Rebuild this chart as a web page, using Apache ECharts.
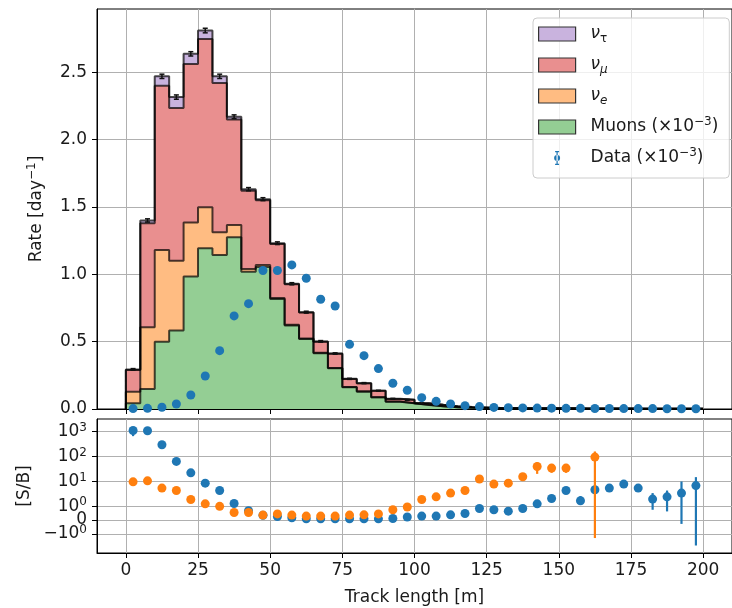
<!DOCTYPE html>
<html><head><meta charset="utf-8">
<script src="https://cdn.jsdelivr.net/npm/echarts@6/dist/echarts.min.js"></script>
<style>html,body{margin:0;padding:0;background:#fff}#c{width:732px;height:608px}</style>
</head><body><div id="c"></div>
<script>
// ---------- data ----------
const binCenters = [2.5,7.5,12.5,17.5,22.5,27.5,32.5,37.5,42.5,47.5,52.5,57.5,62.5,67.5,72.5,77.5,82.5,87.5,92.5,97.5,102.5,107.5,112.5,117.5,122.5,127.5,132.5,137.5,142.5,147.5,152.5,157.5,162.5,167.5,172.5,177.5,182.5,187.5,192.5,197.5];
const binWidth = 5;
const muons = [0.042,0.149,0.50,0.582,0.983,1.194,1.144,1.276,1.02,1.055,0.817,0.62,0.52,0.414,0.302,0.161,0.129,0.087,0.054,0.042,0.030,0.020,0.013,0.009,0.007,0.005,0.004,0.004,0.003,0.003,0.003,0.002,0.002,0.002,0.002,0.001,0.001,0.001,0.001,0.001];
const nuE = [0.087,0.458,0.681,0.518,0.401,0.304,0.169,0.091,0.02,0.015,0.008,0.006,0.004,0.003,0.003,0.002,0.002,0.001,0.001,0.001,0.001,0.001,0,0,0,0,0,0,0,0,0,0,0,0,0,0,0,0,0,0];
const nuMu = [0.161,0.773,1.219,1.134,1.177,1.249,1.107,0.783,0.58,0.48,0.401,0.30,0.192,0.083,0.105,0.06,0.06,0.047,0.02,0.025,0.012,0.01,0.008,0.005,0.004,0.003,0.003,0.002,0.002,0.002,0.002,0.001,0.001,0.001,0.001,0.001,0.001,0.001,0.001,0.001];
const nuTau = [0.004,0.02,0.07,0.082,0.076,0.063,0.05,0.02,0.012,0.008,0.005,0.004,0.003,0.002,0.002,0.001,0.001,0.001,0.001,0,0,0,0,0,0,0,0,0,0,0,0,0,0,0,0,0,0,0,0,0];
const totalErr = [0.006,0.012,0.016,0.016,0.016,0.017,0.016,0.014,0.012,0.011,0.01,0.008,0.007,0.006,0.005,0.004,0.004,0.003,0.003,0.003,0.002,0.002,0.002,0.002,0.002,0.002,0.002,0.002,0.002,0.002,0.002,0.002,0.002,0.002,0.002,0.002,0.002,0.002,0.002,0.002];
const dataRate = [0.003,0.005,0.013,0.037,0.104,0.245,0.433,0.691,0.782,1.028,1.028,1.07,0.971,0.815,0.765,0.48,0.396,0.30,0.191,0.139,0.084,0.057,0.037,0.025,0.018,0.012,0.010,0.008,0.007,0.006,0.005,0.005,0.004,0.004,0.003,0.003,0.003,0.002,0.002,0.002];
const sbBlue = [1100,1070,293,63,22,8.5,4.3,1.3,0.68,0.35,0.26,0.16,0.09,0.09,0.09,0.09,0.09,0.09,0.11,0.22,0.29,0.29,0.38,0.48,0.84,0.75,0.65,0.84,1.26,2.07,4.3,1.67,4.6,5.4,7.8,5.4,1.95,2.4,3.4,6.8];
const sbOrange = [9.6,10.5,5.4,4.3,1.88,1.26,1.0,0.55,0.55,0.36,0.45,0.36,0.29,0.29,0.29,0.36,0.38,0.45,0.75,0.95,1.88,2.4,3.4,4.3,12.4,7.8,8.5,15.3,39.5,34,34,null,94,null,null,null,null,null,null,null];
const sbBlueErr = [[2.5,650,1500],[157.5,1.2,2.6],[182.5,0.75,3.4],[187.5,0.63,4.3],[192.5,-0.28,9.9],[197.5,-2.95,14.8]];
const sbOrangeErr = [[142.5,20,59],[147.5,22,50],[152.5,22,50],[162.5,-1.48,158]];
const xTicks = [0,25,50,75,100,125,150,175,200];
const rateTicks = [0,0.5,1.0,1.5,2.0,2.5];
const sbTickValues = [1000,100,10,1,-1];
const sbTickLabels = ['{b|10}{sup|3}','{b|10}{sup|2}','{b|10}{sup|1}','{b|10}{sup|0}','{b|−10}{sup|0}'];
const sbZeroTick = [0];
const names = {tau:'ν_τ', mu:'ν_μ', e:'ν_e', muons:'Muons (×10⁻³)', data:'Data (×10⁻³)'};

// ---------- helpers ----------
const FONT = 'DejaVu Sans';
const TXT = '#1a1a1a';
const GRIDC = '#b0b0b0';
const LIN = 0.55; // symlog linear-region scale (decades per unit)
function symlog(v){ if (v == null) return null; const a = Math.abs(v); return a <= 1 ? v*LIN : Math.sign(v)*(LIN+Math.log10(a)); }
function cum(arrs){ return binCenters.map((_, i) => arrs.reduce((s, a) => s + a[i], 0)); }
function stepPts(vals){
  const h = binWidth/2, pts = [[binCenters[0]-h, 0]];
  vals.forEach((v, i) => { pts.push([binCenters[i]-h, v]); pts.push([binCenters[i]+h, v]); });
  pts.push([binCenters[binCenters.length-1]+h, 0]);
  return pts;
}
const C = {tau:'#c9b3de', mu:'#e98f8f', e:'#ffbc82', muons:'#94ce94', blue:'#1f77b4', orange:'#ff7f0e'};
const cGreen = cum([muons]), cOrange = cum([muons, nuE]), cRed = cum([muons, nuE, nuMu]), cTot = cum([muons, nuE, nuMu, nuTau]);
const edge = {color:'rgba(0,0,0,0.7)', width:2};
function hist(name, vals, fill){
  return {name, type:'line', xAxisIndex:0, yAxisIndex:0, data:stepPts(vals), symbol:'none', showSymbol:false,
    lineStyle:edge, areaStyle:{color:fill, opacity:1}, itemStyle:{color:fill}, silent:true, z:2};
}
function errRender(color, width, cap){
  return function(params, api){
    const x = api.value(0), lo = api.value(1), hi = api.value(2);
    const p1 = api.coord([x, lo]), p2 = api.coord([x, hi]);
    const ch = [{type:'line', shape:{x1:p1[0], y1:p1[1], x2:p2[0], y2:p2[1]}, style:{stroke:color, lineWidth:width}}];
    if (cap) {
      ch.push({type:'line', shape:{x1:p1[0]-cap, y1:p1[1], x2:p1[0]+cap, y2:p1[1]}, style:{stroke:color, lineWidth:width}});
      ch.push({type:'line', shape:{x1:p2[0]-cap, y1:p2[1], x2:p2[0]+cap, y2:p2[1]}, style:{stroke:color, lineWidth:width}});
    }
    return {type:'group', children:ch};
  };
}
const dataIcon = 'path://M2.4,0h1.2v14h-1.2z M1,0h4v1.2h-4z M1,12.8h4v1.2h-4z M0,7a3,3 0 1,0 6,0a3,3 0 1,0 -6,0z';

const axisText = {fontFamily:FONT, fontSize:17, color:TXT};
const richSup = {
  b:{fontFamily:FONT, fontSize:17, color:TXT, lineHeight:20},
  n:{fontFamily:FONT, fontSize:17, color:TXT, lineHeight:22},
  sup:{fontFamily:FONT, fontSize:12, color:TXT, lineHeight:12, verticalAlign:'top'}
};
function xAxisCfg(grid, showLabels){
  return {type:'value', gridIndex:grid, min:-10, max:210,
    axisLine:{show:true, onZero:false, lineStyle:{color:'#000', width:1}},
    axisTick:{show:true, customValues:xTicks, length:5, lineStyle:{color:'#000', width:1}},
    axisLabel:{show:showLabels, customValues:xTicks, margin:9, hideOverlap:false, showMinLabel:true, showMaxLabel:true, ...axisText},
    splitLine:{show:true, lineStyle:{color:GRIDC, width:1}},
    name: showLabels ? 'Track length [m]' : '', nameLocation:'middle', nameGap:36,
    nameTextStyle:{...axisText}};
}
const sbMin = -1.32, sbMax = 4.05;

const option = {
  animation:false,
  backgroundColor:'#fff',
  textStyle:{fontFamily:FONT},
  grid:[
    {left:97, top:9, width:641, height:400, show:true, borderColor:'#000', borderWidth:1, backgroundColor:'transparent'},
    {left:97, top:419, width:641, height:134, show:true, borderColor:'#000', borderWidth:1, backgroundColor:'transparent'}
  ],
  xAxis:[xAxisCfg(0, false), xAxisCfg(1, true)],
  yAxis:[
    {type:'value', gridIndex:0, min:0, max:2.97,
      axisLine:{show:true, onZero:false, lineStyle:{color:'#000'}},
      axisTick:{show:true, customValues:rateTicks, length:5, lineStyle:{color:'#000'}},
      axisLabel:{customValues:rateTicks, margin:10, hideOverlap:false, showMinLabel:true, formatter:v => v.toFixed(1), ...axisText},
      splitLine:{show:true, lineStyle:{color:GRIDC, width:1}},
      name:'{n|Rate [day}{sup|−1}{n|]}', nameLocation:'middle', nameGap:49,
      nameTextStyle:{...axisText, rich:richSup}},
    {type:'value', gridIndex:1, min:sbMin, max:sbMax, position:'left',
      axisLine:{show:true, onZero:false, lineStyle:{color:'#000'}},
      axisTick:{show:true, customValues:sbTickValues.map(symlog), length:5, lineStyle:{color:'#000'}},
      axisLabel:{customValues:sbTickValues.map(symlog), margin:10, hideOverlap:false, showMinLabel:true, showMaxLabel:true,
        ...axisText, rich:richSup,
        formatter:v => { const i = sbTickValues.findIndex(t => Math.abs(symlog(t)-v) < 1e-6); return i >= 0 ? sbTickLabels[i] : ''; }},
      splitLine:{show:true, lineStyle:{color:GRIDC, width:1}},
      name:'[S/B]', nameLocation:'middle', nameGap:64, nameTextStyle:{...axisText}},
    {type:'value', gridIndex:1, min:sbMin, max:sbMax, position:'left', offset:0,
      axisLine:{show:false, onZero:false},
      axisTick:{show:true, customValues:sbZeroTick.map(symlog), length:5, lineStyle:{color:'#000'}},
      axisLabel:{customValues:sbZeroTick.map(symlog), margin:10, showMinLabel:true, showMaxLabel:true,
        ...axisText, rich:richSup, formatter:v => '{b|' + sbZeroTick[0] + '}'},
      splitLine:{show:true, lineStyle:{color:GRIDC, width:1}}}
  ],
  legend:{
    orient:'vertical', left:533, top:18, itemWidth:37, itemHeight:14, itemGap:9,
    padding:[5,11,9,5], backgroundColor:'rgba(255,255,255,0.8)', borderColor:'#cccccc', borderWidth:1, borderRadius:4,
    selectedMode:false,
    textStyle:{fontFamily:FONT, fontSize:17, color:TXT, lineHeight:22, padding:[0,0,0,10],
      rich:{
        i:{fontFamily:FONT, fontSize:17, fontStyle:'italic', lineHeight:22, color:TXT},
        s:{fontFamily:FONT, fontSize:12, lineHeight:13, verticalAlign:'bottom', color:TXT},
        si:{fontFamily:FONT, fontSize:12, fontStyle:'italic', lineHeight:13, verticalAlign:'bottom', color:TXT},
        n:{fontFamily:FONT, fontSize:17, lineHeight:22, color:TXT},
        sup:{fontFamily:FONT, fontSize:12, lineHeight:12, verticalAlign:'top', color:TXT}
      }},
    formatter:name => {
      if (name === names.tau) return '{i|ν}{s|τ}';
      if (name === names.mu) return '{i|ν}{si|μ}';
      if (name === names.e) return '{i|ν}{si|e}';
      if (name === names.muons) return '{n|Muons (×10}{sup|−3}{n|)}';
      if (name === names.data) return '{n|Data (×10}{sup|−3}{n|)}';
      return '{n|' + name + '}';
    },
    data:[
      {name:names.tau, icon:'rect', itemStyle:{color:C.tau, borderColor:'#333', borderWidth:1.2}},
      {name:names.mu, icon:'rect', itemStyle:{color:C.mu, borderColor:'#333', borderWidth:1.2}},
      {name:names.e, icon:'rect', itemStyle:{color:C.e, borderColor:'#333', borderWidth:1.2}},
      {name:names.muons, icon:'rect', itemStyle:{color:C.muons, borderColor:'#333', borderWidth:1.2}},
      {name:names.data, icon:dataIcon, itemStyle:{color:C.blue, borderWidth:0}}
    ]
  },
  series:[
    hist(names.tau, cTot, C.tau),
    hist(names.mu, cRed, C.mu),
    hist(names.e, cOrange, C.e),
    hist(names.muons, cGreen, C.muons),
    {name:'totErr', type:'custom', xAxisIndex:0, yAxisIndex:0, silent:true, z:3,
      renderItem:errRender('#111', 1.5, 2.5),
      data:binCenters.map((x, i) => [x, cTot[i]-totalErr[i], cTot[i]+totalErr[i]])},
    {name:names.data, type:'scatter', xAxisIndex:0, yAxisIndex:0, symbolSize:9, z:4,
      itemStyle:{color:C.blue, opacity:1}, data:binCenters.map((x, i) => [x, dataRate[i]])},
    {name:'sbBlueErr', type:'custom', xAxisIndex:1, yAxisIndex:1, silent:true, z:3,
      renderItem:errRender(C.blue, 2.2, 0),
      data:sbBlueErr.map(d => [d[0], symlog(d[1]), symlog(d[2])])},
    {name:'sbBlue', type:'scatter', xAxisIndex:1, yAxisIndex:1, symbolSize:9, z:3,
      itemStyle:{color:C.blue, opacity:1}, data:binCenters.map((x, i) => [x, symlog(sbBlue[i])])},
    {name:'sbOrangeErr', type:'custom', xAxisIndex:1, yAxisIndex:1, silent:true, z:4,
      renderItem:errRender(C.orange, 2.2, 0),
      data:sbOrangeErr.map(d => [d[0], symlog(d[1]), symlog(d[2])])},
    {name:'sbOrange', type:'scatter', xAxisIndex:1, yAxisIndex:1, symbolSize:9, z:4,
      itemStyle:{color:C.orange, opacity:1},
      data:binCenters.map((x, i) => [x, symlog(sbOrange[i])]).filter(d => d[1] != null)}
  ]
};
const chart = echarts.init(document.getElementById('c'));
chart.setOption(option);
</script></body></html>
